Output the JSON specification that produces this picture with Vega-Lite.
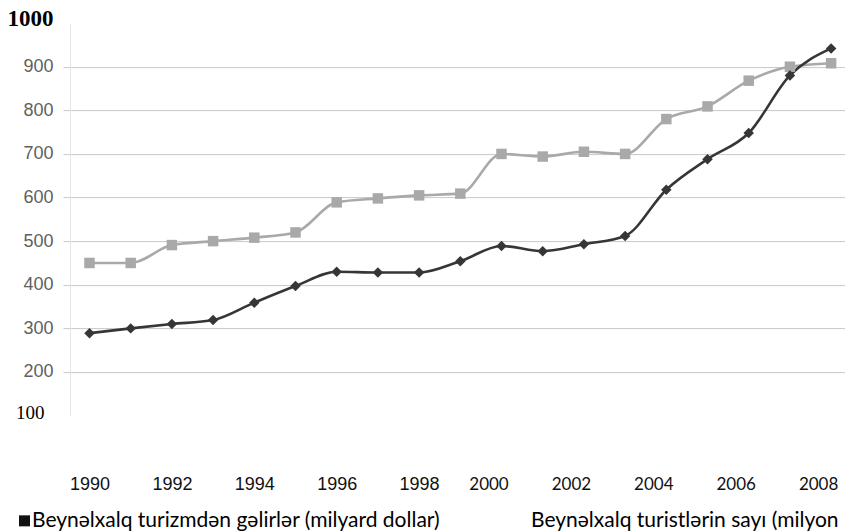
{
  "$schema": "https://vega.github.io/schema/vega-lite/v6.json",
  "width": 775,
  "height": 392.5,
  "autosize": {"type": "none"},
  "padding": {"left": 70, "top": 23.1, "right": 0, "bottom": 116.4},
  "background": "#ffffff",
  "config": {"view": {"stroke": null}},
  "data": {
    "values": [
      {"year": 1990, "series": "Beynəlxalq turistlərin sayı (milyon", "value": 450},
      {"year": 1991, "series": "Beynəlxalq turistlərin sayı (milyon", "value": 450},
      {"year": 1992, "series": "Beynəlxalq turistlərin sayı (milyon", "value": 491},
      {"year": 1993, "series": "Beynəlxalq turistlərin sayı (milyon", "value": 500},
      {"year": 1994, "series": "Beynəlxalq turistlərin sayı (milyon", "value": 508},
      {"year": 1995, "series": "Beynəlxalq turistlərin sayı (milyon", "value": 520},
      {"year": 1996, "series": "Beynəlxalq turistlərin sayı (milyon", "value": 589},
      {"year": 1997, "series": "Beynəlxalq turistlərin sayı (milyon", "value": 598},
      {"year": 1998, "series": "Beynəlxalq turistlərin sayı (milyon", "value": 605},
      {"year": 1999, "series": "Beynəlxalq turistlərin sayı (milyon", "value": 609},
      {"year": 2000, "series": "Beynəlxalq turistlərin sayı (milyon", "value": 700},
      {"year": 2001, "series": "Beynəlxalq turistlərin sayı (milyon", "value": 694},
      {"year": 2002, "series": "Beynəlxalq turistlərin sayı (milyon", "value": 705},
      {"year": 2003, "series": "Beynəlxalq turistlərin sayı (milyon", "value": 700},
      {"year": 2004, "series": "Beynəlxalq turistlərin sayı (milyon", "value": 780},
      {"year": 2005, "series": "Beynəlxalq turistlərin sayı (milyon", "value": 809},
      {"year": 2006, "series": "Beynəlxalq turistlərin sayı (milyon", "value": 868},
      {"year": 2007, "series": "Beynəlxalq turistlərin sayı (milyon", "value": 900},
      {"year": 2008, "series": "Beynəlxalq turistlərin sayı (milyon", "value": 908},
      {"year": 1990, "series": "Beynəlxalq turizmdən gəlirlər (milyard dollar)", "value": 289},
      {"year": 1991, "series": "Beynəlxalq turizmdən gəlirlər (milyard dollar)", "value": 300},
      {"year": 1992, "series": "Beynəlxalq turizmdən gəlirlər (milyard dollar)", "value": 310},
      {"year": 1993, "series": "Beynəlxalq turizmdən gəlirlər (milyard dollar)", "value": 319},
      {"year": 1994, "series": "Beynəlxalq turizmdən gəlirlər (milyard dollar)", "value": 359},
      {"year": 1995, "series": "Beynəlxalq turizmdən gəlirlər (milyard dollar)", "value": 397},
      {"year": 1996, "series": "Beynəlxalq turizmdən gəlirlər (milyard dollar)", "value": 430},
      {"year": 1997, "series": "Beynəlxalq turizmdən gəlirlər (milyard dollar)", "value": 428},
      {"year": 1998, "series": "Beynəlxalq turizmdən gəlirlər (milyard dollar)", "value": 428},
      {"year": 1999, "series": "Beynəlxalq turizmdən gəlirlər (milyard dollar)", "value": 454},
      {"year": 2000, "series": "Beynəlxalq turizmdən gəlirlər (milyard dollar)", "value": 489},
      {"year": 2001, "series": "Beynəlxalq turizmdən gəlirlər (milyard dollar)", "value": 477},
      {"year": 2002, "series": "Beynəlxalq turizmdən gəlirlər (milyard dollar)", "value": 493},
      {"year": 2003, "series": "Beynəlxalq turizmdən gəlirlər (milyard dollar)", "value": 512},
      {"year": 2004, "series": "Beynəlxalq turizmdən gəlirlər (milyard dollar)", "value": 618},
      {"year": 2005, "series": "Beynəlxalq turizmdən gəlirlər (milyard dollar)", "value": 688},
      {"year": 2006, "series": "Beynəlxalq turizmdən gəlirlər (milyard dollar)", "value": 748},
      {"year": 2007, "series": "Beynəlxalq turizmdən gəlirlər (milyard dollar)", "value": 880},
      {"year": 2008, "series": "Beynəlxalq turizmdən gəlirlər (milyard dollar)", "value": 942}
    ]
  },
  "encoding": {
    "x": {
      "field": "year",
      "type": "quantitative",
      "scale": {"domain": [1989.527, 2008.337], "nice": false, "zero": false},
      "axis": {
        "title": null,
        "values": [1990, 1992, 1994, 1996, 1998, 2000, 2002, 2004, 2006, 2008],
        "format": "d",
        "domain": false,
        "ticks": false,
        "grid": false,
        "labelPadding": 69,
        "labelBaseline": "middle",
        "labelColor": "#111111",
        "labelFont": {"condition": {"test": "datum.value >= 2000", "value": "Lato"}, "value": "Liberation Sans"},
        "labelFontSize": {"condition": {"test": "datum.value >= 2000", "value": 17}, "value": 18},
        "labelOffset": {"condition": {"test": "datum.value >= 2000", "value": -13}, "value": 0},
        "labelFlush": false,
        "labelOverlap": false
      }
    },
    "y": {
      "field": "value",
      "type": "quantitative",
      "scale": {"domain": [100, 1000], "nice": false, "zero": false},
      "axis": {
        "title": null,
        "values": [100, 200, 300, 400, 500, 600, 700, 800, 900, 1000],
        "format": "d",
        "domain": true,
        "domainColor": "#e4e4e4",
        "domainWidth": 1,
        "ticks": true,
        "tickSize": 7,
        "tickColor": "#c8c8c8",
        "tickOpacity": {"condition": {"test": "datum.value < 200 || datum.value > 900", "value": 0}, "value": 1},
        "grid": true,
        "gridColor": "#c8c8c8",
        "gridWidth": 1,
        "gridOpacity": {"condition": {"test": "datum.value < 200 || datum.value > 900", "value": 0}, "value": 1},
        "labelPadding": {"condition": {"test": "datum.value == 100", "value": 19}, "value": 10},
        "labelOffset": {"condition": [{"test": "datum.value == 1000", "value": -4.6}, {"test": "datum.value == 100", "value": -3.6}], "value": 0},
        "labelFont": {"condition": {"test": "datum.value == 1000 || datum.value == 100", "value": "Liberation Serif"}, "value": "Liberation Sans"},
        "labelFontWeight": {"condition": {"test": "datum.value == 1000", "value": "bold"}, "value": "normal"},
        "labelFontSize": {"condition": [{"test": "datum.value == 1000", "value": 23}, {"test": "datum.value == 100", "value": 19}], "value": 18},
        "labelColor": {"condition": {"test": "datum.value == 1000 || datum.value == 100", "value": "#000000"}, "value": "#5f5f5f"},
        "labelFlush": false,
        "labelOverlap": false
      }
    }
  },
  "layer": [
    {
      "mark": {"type": "point", "filled": true, "color": "#111111", "size": 1, "shape": "square"},
      "encoding": {
        "opacity": {
          "field": "series",
          "type": "ordinal",
          "scale": {
            "domain": ["Beynəlxalq turizmdən gəlirlər (milyard dollar)", "Beynəlxalq turistlərin sayı (milyon"],
            "range": [1, 0]
          },
          "legend": {
            "title": null,
            "orient": "none",
            "legendX": -56,
            "legendY": 487,
            "direction": "horizontal",
            "columns": 2,
            "columnPadding": 72,
            "padding": 0,
            "labelFont": "Lato",
            "labelFontSize": 21,
            "labelColor": "#000000",
            "labelLimit": 0,
            "labelOffset": -3,
            "symbolType": "square",
            "symbolSize": 121,
            "symbolFillColor": "#111111",
            "symbolStrokeWidth": 0,
            "encode": {
              "symbols": {
                "shape": {"value": "square"},
                "size": {"value": 121},
                "fill": {"value": "#111111"}
              }
            }
          }
        }
      }
    },
    {
      "mark": {"type": "line", "strokeWidth": 2.6, "interpolate": "monotone"},
      "encoding": {
        "color": {
          "field": "series",
          "type": "nominal",
          "scale": {
            "domain": ["Beynəlxalq turistlərin sayı (milyon", "Beynəlxalq turizmdən gəlirlər (milyard dollar)"],
            "range": ["#a9a9a9", "#363636"]
          },
          "legend": null
        },
        "order": {"field": "year"}
      }
    },
    {
      "mark": {"type": "point", "filled": true, "opacity": 1, "size": 110},
      "encoding": {
        "color": {"field": "series", "type": "nominal", "legend": null},
        "shape": {
          "field": "series",
          "type": "nominal",
          "scale": {
            "domain": ["Beynəlxalq turistlərin sayı (milyon", "Beynəlxalq turizmdən gəlirlər (milyard dollar)"],
            "range": ["square", "diamond"]
          },
          "legend": null
        }
      }
    }
  ]
}
